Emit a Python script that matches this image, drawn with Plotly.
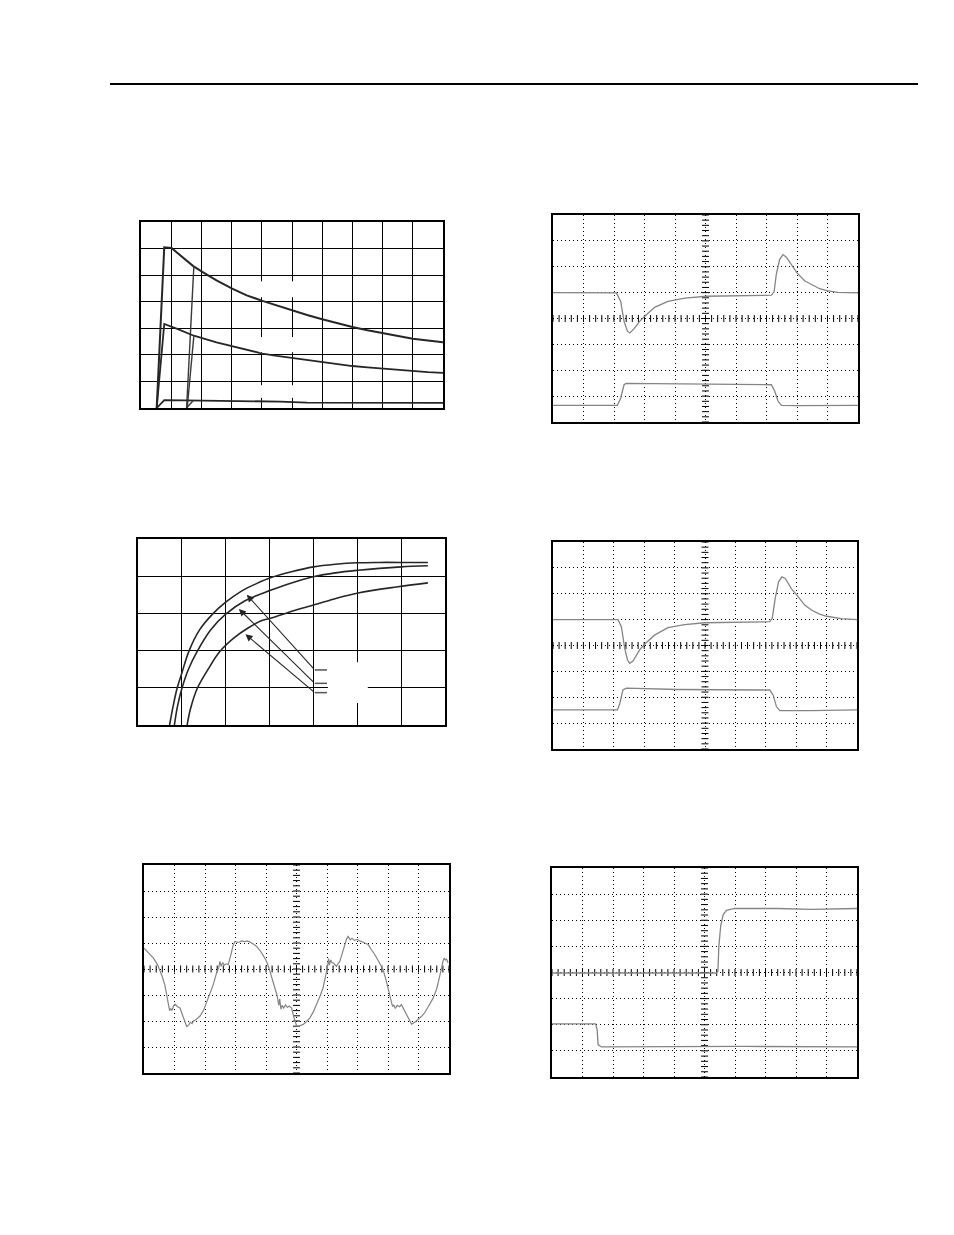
import plotly.graph_objects as go
import numpy as np

W, H = 954, 1235
OFF = 8  # page body margin of the rendered html

# ---------------- Panel 1 (decay curves) ----------------
p1_upper_x = [0.52, 0.77, 1.01, 1.40, 1.73, 2.03, 2.50, 3.02, 3.50, 4.02, 4.50, 5.00, 5.50, 6.00, 6.50, 7.00, 7.50, 8.00, 8.50, 9.00, 9.50, 10.0]
p1_upper_y = [0.00, 6.05, 6.02, 5.66, 5.34, 5.12, 4.80, 4.49, 4.24, 4.03, 3.85, 3.68, 3.50, 3.34, 3.19, 3.05, 2.93, 2.82, 2.71, 2.61, 2.54, 2.47]
p1_upper2_x = [1.51, 1.75]
p1_upper2_y = [0.00, 5.33]
p1_mid_x = [0.52, 0.77, 1.20, 1.75, 2.50, 3.02, 3.50, 4.02, 4.50, 5.00, 5.50, 6.00, 6.50, 7.00, 7.50, 8.00, 8.50, 9.00, 9.50, 10.0]
p1_mid_y = [0.00, 3.16, 2.98, 2.72, 2.47, 2.32, 2.18, 2.05, 1.96, 1.88, 1.80, 1.73, 1.65, 1.58, 1.53, 1.48, 1.43, 1.38, 1.35, 1.32]
p1_mid2_x = [1.53, 1.75]
p1_mid2_y = [0.00, 2.72]
p1_low_x = [0.52, 0.77, 1.45, 2.00, 3.00, 4.00, 4.60, 5.50, 7.00, 8.50, 10.0]
p1_low_y = [0.00, 0.30, 0.29, 0.28, 0.28, 0.27, 0.24, 0.20, 0.19, 0.19, 0.19]
p1_low2_x = [1.51, 1.73]
p1_low2_y = [0.00, 0.28]

# ---------------- Panel 3 (saturating curves) ----------------
p3_c1_x = [0.72, 0.80, 0.89, 1.00, 1.16, 1.40, 1.70, 2.00, 2.36, 2.70, 3.05, 3.50, 4.00, 4.50, 5.00, 5.50, 6.00, 6.61]
p3_c1_y = [0.00, 0.50, 0.98, 1.40, 1.98, 2.55, 2.98, 3.30, 3.60, 3.80, 3.97, 4.12, 4.25, 4.32, 4.36, 4.37, 4.37, 4.37]
p3_c2_x = [0.83, 0.90, 1.00, 1.15, 1.35, 1.65, 2.00, 2.44, 3.02, 3.50, 4.02, 4.50, 5.02, 5.50, 6.00, 6.61]
p3_c2_y = [0.00, 0.50, 0.98, 1.50, 1.98, 2.55, 2.98, 3.34, 3.62, 3.82, 3.99, 4.09, 4.16, 4.21, 4.25, 4.28]
p3_c3_x = [1.12, 1.20, 1.35, 1.60, 1.87, 2.21, 2.50, 2.81, 3.02, 3.62, 4.02, 4.53, 5.02, 5.89, 6.61]
p3_c3_y = [0.00, 0.45, 0.98, 1.50, 1.98, 2.36, 2.60, 2.80, 2.87, 3.10, 3.23, 3.41, 3.55, 3.71, 3.82]
p3_arrow_head_x = [2.48, 2.30, 2.45]
p3_arrow_head_y = [3.50, 3.12, 2.44]
p3_leader_y = [1.48, 1.12, 0.87]

# ---------------- Panel 2 (scope) ----------------
p2_up_x = [0.0, 2.08, 2.22, 2.33, 2.44, 2.52, 2.66, 2.84, 3.00, 3.33, 3.77, 4.32, 5.03, 6.28, 7.16, 7.25, 7.32, 7.43, 7.54, 7.65, 7.81, 8.00, 8.25, 8.47, 8.74, 8.98, 9.34, 10.0]
p2_up_y = [5.0, 4.99, 4.66, 3.89, 3.51, 3.44, 3.61, 3.89, 4.08, 4.43, 4.66, 4.79, 4.86, 4.90, 4.90, 5.03, 5.70, 6.28, 6.47, 6.37, 6.08, 5.76, 5.46, 5.31, 5.15, 5.08, 5.01, 4.99]
p2_lo_x = [0.0, 2.11, 2.22, 2.33, 2.40, 3.44, 7.16, 7.27, 7.38, 7.49, 8.03, 10.0]
p2_lo_y = [0.64, 0.64, 0.93, 1.44, 1.49, 1.48, 1.44, 1.19, 0.80, 0.64, 0.63, 0.64]

# ---------------- Panel 4 (scope) ----------------
p4_up_x = [0.0, 2.14, 2.25, 2.36, 2.45, 2.52, 2.63, 2.85, 3.02, 3.34, 3.78, 4.33, 4.99, 6.30, 7.13, 7.21, 7.31, 7.42, 7.53, 7.64, 7.84, 8.03, 8.28, 8.50, 8.77, 9.00, 9.48, 10.0]
p4_up_y = [5.0, 5.0, 4.72, 3.89, 3.44, 3.31, 3.40, 3.83, 4.06, 4.40, 4.69, 4.81, 4.88, 4.92, 4.92, 5.04, 5.82, 6.46, 6.65, 6.59, 6.20, 5.94, 5.56, 5.37, 5.21, 5.13, 5.04, 5.0]
p4_lo_x = [0.0, 2.12, 2.20, 2.30, 2.41, 3.02, 4.11, 7.13, 7.24, 7.35, 7.46, 8.50, 10.0]
p4_lo_y = [1.51, 1.51, 1.77, 2.28, 2.35, 2.34, 2.30, 2.28, 2.09, 1.64, 1.48, 1.48, 1.51]

# ---------------- Panel 5 (scope, noisy wave) ----------------
p5_x = [0.0, 0.15, 0.31, 0.45, 0.52, 0.60, 0.68, 0.75, 0.80, 0.84, 0.88, 0.92, 0.97, 1.02, 1.10, 1.18, 1.24, 1.29, 1.35, 1.40,
        1.47, 1.52, 1.58, 1.62, 1.70, 1.83, 1.95, 2.05, 2.15, 2.27, 2.38, 2.45, 2.49, 2.53, 2.58, 2.63, 2.70, 2.76, 2.85, 2.92,
        2.98, 3.10, 3.20, 3.30, 3.40, 3.47, 3.60, 3.69, 3.80, 3.96, 4.05, 4.13, 4.22, 4.29, 4.36, 4.42, 4.45, 4.49, 4.53, 4.58,
        4.64, 4.70, 4.76, 4.84, 4.90, 4.95, 5.00, 5.05, 5.12, 5.22, 5.33, 5.44, 5.55, 5.66, 5.77, 5.87, 5.96, 6.02, 6.05, 6.08,
        6.12, 6.16, 6.22, 6.31, 6.37, 6.42, 6.50, 6.58, 6.64, 6.69, 6.76, 6.82, 6.90, 7.00, 7.07, 7.20, 7.35, 7.45, 7.57, 7.70,
        7.84, 7.93, 8.00, 8.06, 8.11, 8.15, 8.19, 8.24, 8.30, 8.38, 8.44, 8.52, 8.60, 8.68, 8.77, 8.88, 8.98, 9.10, 9.20, 9.35,
        9.48, 9.60, 9.69, 9.76, 9.80, 9.84, 9.88, 9.92, 9.97]
p5_y = [4.80, 4.62, 4.42, 4.15, 3.97, 3.70, 3.40, 2.95, 2.50, 2.40, 2.47, 2.42, 2.58, 2.65, 2.55, 2.50, 2.30, 2.12, 1.90, 1.79,
        1.85, 1.95, 1.90, 2.00, 2.05, 2.18, 2.40, 2.69, 3.05, 3.40, 3.85, 4.05, 4.29, 4.10, 4.25, 4.15, 4.20, 4.17, 4.55, 4.90,
        5.06, 5.02, 5.08, 5.05, 5.08, 5.04, 4.95, 4.87, 4.72, 4.42, 4.20, 3.91, 3.60, 3.27, 3.00, 2.60, 2.85, 2.45, 2.60, 2.50,
        2.62, 2.52, 2.58, 2.50, 2.20, 1.95, 1.82, 1.79, 1.83, 1.87, 1.98, 2.12, 2.35, 2.63, 2.95, 3.27, 3.70, 4.10, 4.40, 4.15,
        4.35, 4.25, 4.22, 4.10, 4.22, 4.29, 4.60, 4.94, 5.15, 5.25, 5.12, 5.18, 5.10, 5.14, 5.08, 5.02, 4.94, 4.75, 4.55, 4.28,
        3.97, 3.60, 3.27, 2.95, 2.70, 2.55, 2.62, 2.48, 2.60, 2.55, 2.63, 2.45, 2.24, 2.05, 1.88, 1.95, 2.05, 2.18, 2.31, 2.60,
        2.88, 3.25, 3.65, 4.05, 4.29, 4.42, 4.35, 4.38, 4.23]

# ---------------- Panel 6 (scope, steps) ----------------
p6_up_x = [0.0, 3.04, 5.39, 5.44, 5.47, 5.53, 5.61, 5.72, 5.99, 7.41, 8.50, 10.0]
p6_up_y = [3.98, 3.98, 3.98, 4.04, 5.00, 5.77, 6.21, 6.38, 6.45, 6.45, 6.42, 6.45]
p6_lo_x = [0.0, 1.43, 1.48, 1.51, 1.62, 4.13, 6.32, 10.0]
p6_lo_y = [2.03, 2.03, 1.81, 1.24, 1.15, 1.16, 1.17, 1.15]

# panel pixel boxes in the page (x0, x1, y0, y1)
boxes = {
    1: (141, 443, 222, 408),
    2: (553, 858, 215, 422),
    3: (138, 445, 539, 725),
    4: (553, 857, 542, 749),
    5: (144, 449, 865, 1073),
    6: (552, 857, 868, 1077),
}
ranges = {1: ([0, 10], [0, 7]), 2: ([0, 10], [0, 8]), 3: ([0, 7], [0, 5]),
          4: ([0, 10], [0, 8]), 5: ([0, 10], [0, 8]), 6: ([0, 10], [0, 8])}
scope = {2, 4, 5, 6}

def px(x):
    return (x - OFF) / W

def py(y):
    return 1 - (y - OFF) / H

fig = go.Figure()
layout = dict(width=W, height=H, margin=dict(l=0, r=0, t=0, b=0),
              paper_bgcolor="white", plot_bgcolor="white", showlegend=False)

for n, (x0, x1, y0, y1) in boxes.items():
    sx = "" if n == 1 else str(n)
    xr, yr = ranges[n]
    common = dict(showline=True, mirror=True, linecolor="black", linewidth=1.5,
                  showticklabels=False, ticks="", zeroline=False, showgrid=True,
                  gridcolor="black", gridwidth=1, dtick=1, tick0=0, fixedrange=True)
    if n in scope:
        common["griddash"] = "1px,3px"
        common["gridwidth"] = 1.3
    layout["xaxis" + sx] = dict(domain=[px(x0), px(x1)], range=xr, anchor="y" + sx, **common)
    layout["yaxis" + sx] = dict(domain=[py(y1), py(y0)], range=yr, anchor="x" + sx, **common)

fig.update_layout(**layout)

def ax(n):
    return ("x" if n == 1 else "x" + str(n)), ("y" if n == 1 else "y" + str(n))

def add_line(n, x, y, color, width, shape="linear"):
    xa, ya = ax(n)
    fig.add_trace(go.Scatter(x=x, y=y, mode="lines", xaxis=xa, yaxis=ya,
                             line=dict(color=color, width=width, shape=shape),
                             hoverinfo="skip"))

dark = "#262626"
grey = "#858585"

# scope centre graticule ticks
for n in scope:
    xa, ya = ax(n)
    tx = np.arange(0, 10.001, 0.2)
    ty = np.arange(0, 8.001, 0.2)
    fig.add_trace(go.Scatter(x=tx, y=[4] * len(tx), mode="markers", xaxis=xa, yaxis=ya,
                             marker=dict(symbol="line-ns", size=5, line=dict(color="black", width=1)),
                             hoverinfo="skip"))
    fig.add_trace(go.Scatter(x=[5] * len(ty), y=ty, mode="markers", xaxis=xa, yaxis=ya,
                             marker=dict(symbol="line-ew", size=5, line=dict(color="black", width=1)),
                             hoverinfo="skip"))

# panel 1 gaps in grid (white label areas)
for gx in [4, 5]:
    for (ga, gb) in [(4.17, 4.77), (2.10, 2.67), (0.38, 0.86)]:
        fig.add_shape(type="rect", xref="x", yref="y", x0=gx - 0.08, x1=gx + 0.08, y0=ga, y1=gb,
                      fillcolor="white", line=dict(width=0), layer="above")
# panel 3 white label area
fig.add_shape(type="rect", xref="x3", yref="y3", x0=4.33, x1=5.24, y0=0.59, y1=1.69,
              fillcolor="white", line=dict(width=0), layer="above")

# panel 1 traces
add_line(1, p1_upper_x, p1_upper_y, dark, 2.0)
add_line(1, p1_upper2_x, p1_upper2_y, "#3a3a3a", 1.4)
add_line(1, p1_mid_x, p1_mid_y, dark, 1.8)
add_line(1, p1_mid2_x, p1_mid2_y, "#3a3a3a", 1.4)
add_line(1, p1_low_x, p1_low_y, dark, 1.8)
add_line(1, p1_low2_x, p1_low2_y, "#3a3a3a", 1.4)

# panel 3 traces
add_line(3, p3_c1_x, p3_c1_y, dark, 1.6, "spline")
add_line(3, p3_c2_x, p3_c2_y, dark, 1.6, "spline")
add_line(3, p3_c3_x, p3_c3_y, dark, 1.6, "spline")
for hx, hy, ly in zip(p3_arrow_head_x, p3_arrow_head_y, p3_leader_y):
    fig.add_annotation(x=hx, y=hy, ax=4.03, ay=ly, xref="x3", yref="y3", axref="x3", ayref="y3",
                       text="", showarrow=True, arrowhead=2, arrowsize=1.3, arrowwidth=1.1,
                       arrowcolor=dark, standoff=0, startstandoff=0)
    fig.add_shape(type="line", xref="x3", yref="y3", x0=4.03, x1=4.31, y0=ly, y1=ly,
                  line=dict(color="#555555", width=1.5))

# scope traces
add_line(2, p2_up_x, p2_up_y, grey, 1.3)
add_line(2, p2_lo_x, p2_lo_y, grey, 1.3)
add_line(4, p4_up_x, p4_up_y, grey, 1.3)
add_line(4, p4_lo_x, p4_lo_y, grey, 1.3)
add_line(5, p5_x, p5_y, grey, 1.2)
add_line(6, p6_up_x, p6_up_y, grey, 1.3)
add_line(6, p6_lo_x, p6_lo_y, grey, 1.3)

# header rule
fig.add_shape(type="line", xref="paper", yref="paper", x0=px(110), x1=px(918),
              y0=py(84), y1=py(84), line=dict(color="black", width=2))

fig.write_html("out.html")
